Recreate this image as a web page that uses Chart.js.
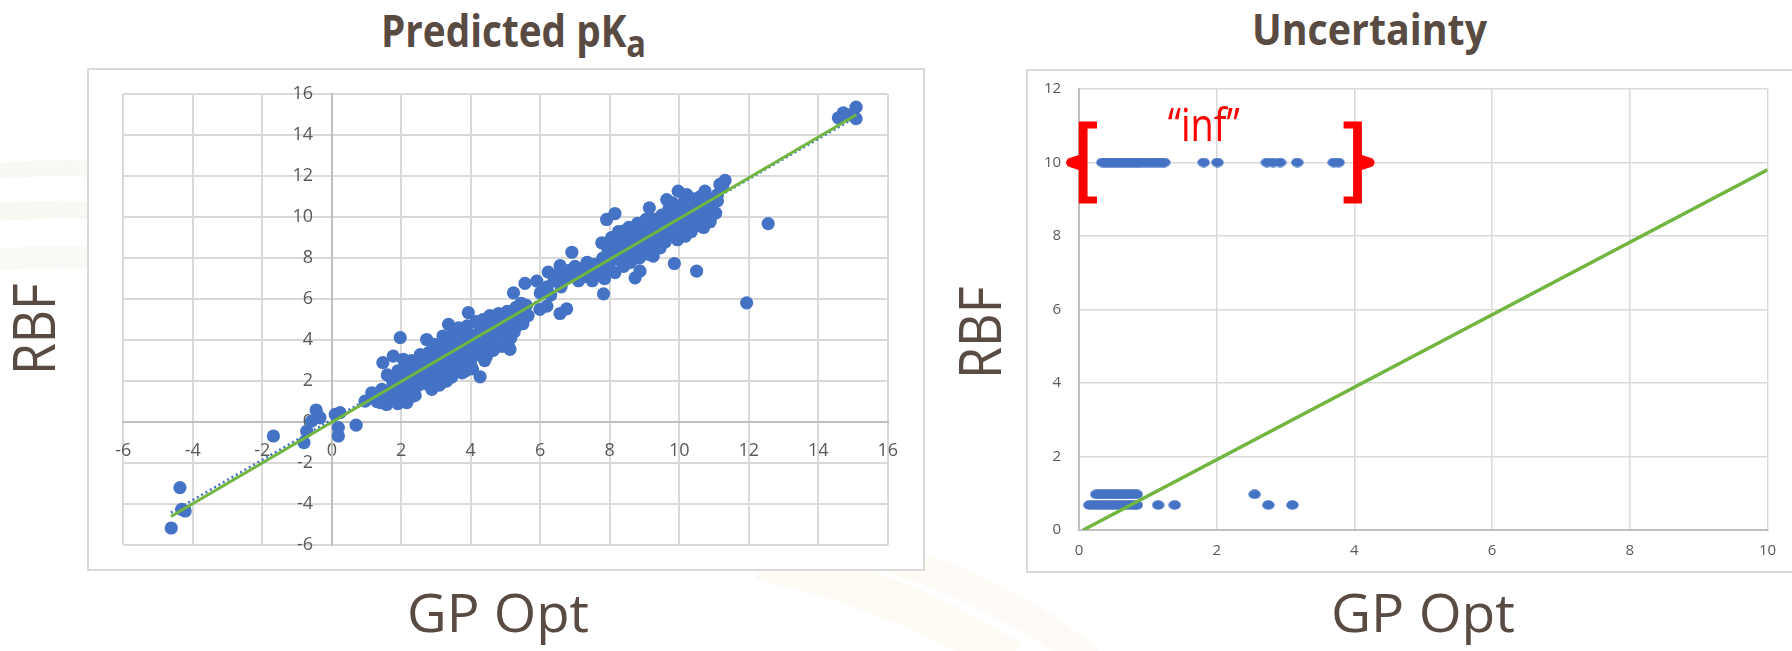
<!DOCTYPE html>
<html><head><meta charset="utf-8">
<script src="https://cdn.jsdelivr.net/npm/chart.js@4.4.1/dist/chart.umd.min.js"></script>
<style>
html,body{margin:0;padding:0;background:#fff;}
body{width:1792px;height:651px;position:relative;overflow:hidden;font-family:'Open Sans',sans-serif;color:#594a42;}
#wm{position:absolute;left:0;top:0;z-index:0;}
.box{position:absolute;border:2px solid #d9d9d9;box-sizing:border-box;background:#fff;z-index:1;}
.cv{position:absolute;z-index:2;}
.t{position:absolute;white-space:nowrap;line-height:1;left:0;top:0;z-index:3;color:#594a42;}
.bl{display:inline-block;width:0;height:0;vertical-align:baseline;}
</style></head>
<body>
<svg id="wm" width="1792" height="651">
  <path d="M -40 175 Q 150 150 330 215" stroke="#f1f6eb" stroke-width="16" fill="none" opacity="0.6"/>
  <path d="M -40 215 Q 150 195 330 250" stroke="#f1f6eb" stroke-width="18" fill="none" opacity="0.6"/>
  <path d="M -40 262 Q 150 245 330 290" stroke="#f3f7ee" stroke-width="22" fill="none" opacity="0.6"/>
  <path d="M 760 560 Q 900 590 1010 660" stroke="#fdf9ef" stroke-width="40" fill="none" opacity="0.7"/>
  <path d="M 840 545 Q 980 575 1090 660" stroke="#fefaf2" stroke-width="30" fill="none" opacity="0.7"/>
</svg>
<div class="box" style="left:87px;top:68px;width:838px;height:503px"></div>
<div class="box" style="left:1026px;top:69px;width:800px;height:504px"></div>
<div class="cv" style="left:88px;top:69px;width:836px;height:502px"><canvas id="c1"></canvas></div>
<div class="cv" style="left:1027px;top:70px;width:765px;height:502px"><canvas id="c2"></canvas></div>

<div class="t" id="t1" style="font-weight:700;font-size:44px">Predicted pK<span style="font-size:37px;position:relative;top:10px">a</span><span class="bl"></span></div>
<div class="t" id="t2" style="font-weight:700;font-size:43px">Uncertainty<span class="bl"></span></div>
<div class="t" id="g1" style="font-size:53px">GP Opt<span class="bl"></span></div>
<div class="t" id="g2" style="font-size:53px">GP Opt<span class="bl"></span></div>
<div class="t" id="r1" style="font-size:58px">RBF<span class="bl"></span></div>
<div class="t" id="r2" style="font-size:58px">RBF<span class="bl"></span></div>

<script>
// ---------- DATA ----------
const pkaTicks = [-6, -4, -2, 0, 2, 4, 6, 8, 10, 12, 14, 16];
const uncXTicks = [0, 2, 4, 6, 8, 10];
const uncYTicks = [0, 2, 4, 6, 8, 10, 12];

// Predicted pKa: [GP Opt, RBF]
const pkaNegative = [[-4.62,-5.17],[-4.37,-3.2],[-4.22,-4.34],[-4.32,-4.26],[-1.68,-0.68],[-0.8,-1.0],[-0.72,-0.44],
  [-0.45,0.59],[-0.34,0.21],[-0.58,0.05],[-0.4,0.3],[0.19,-0.27],[0.19,-0.68],[0.1,0.38],[0.24,0.46],[0.7,-0.15]];
const pkaLow = [[0.96,1.02],[1.15,1.43],[1.3,1.0],[1.44,1.6],[1.58,0.86],[1.47,2.9],[1.5,1.3],[1.6,2.3],[1.65,1.0],
  [1.7,1.6],[1.77,3.22],[1.8,1.9],[1.85,1.1],[1.9,2.5],[1.95,1.4],[1.97,4.12],[2.0,2.0],[2.05,1.2],[2.06,3.06],
  [2.1,2.7],[2.16,0.95],[2.2,1.7],[2.25,2.3],[2.3,3.0],[2.3,1.25],[2.35,1.5],[2.4,2.1],[2.45,2.7],[2.5,1.8],
  [2.55,3.3],[2.5,2.4],[1.2,1.2],[1.4,0.95],[1.75,2.0],[1.9,0.9],[2.1,1.9],[2.2,2.5],[2.4,1.3],[2.45,3.0]];
const pkaMid = [[2.6,2.4],[2.65,1.9],[2.7,3.0],[2.73,4.03],[2.75,2.2],[2.8,3.4],[2.85,2.6],[2.88,1.6],[2.9,2.9],
  [2.95,3.8],[3.0,2.1],[3.0,3.2],[3.05,2.5],[3.1,3.6],[3.1,1.8],[3.15,2.9],[3.2,4.2],[3.2,2.3],[3.25,3.3],
  [3.3,2.0],[3.3,3.7],[3.36,4.77],[3.35,3.9],[3.4,2.7],[3.45,3.4],[3.5,4.4],[3.5,2.4],[3.55,3.0],[3.6,3.7],
  [3.6,4.1],[3.65,4.6],[3.7,2.8],[3.75,3.3],[3.8,4.0],[3.85,2.5],[3.85,3.6],[3.9,4.7],[3.93,5.34],[3.95,3.5],
  [3.95,4.3],[4.0,3.0],[4.0,4.2],[4.05,2.6],[4.1,3.8],[4.15,4.9],[4.2,3.3],[4.25,4.4],[4.27,2.21],[4.3,3.6],
  [4.35,5.0],[4.4,4.1],[4.45,3.2],[4.5,4.7],[4.5,3.8],[4.55,5.2],[4.6,4.3],[4.65,3.5],[4.7,4.9],[4.75,4.0],
  [4.8,5.3],[4.85,4.5],[4.9,3.7],[4.95,5.0],[5.0,4.3],[5.05,5.4],[5.08,3.71],[5.13,3.55],[5.1,4.8],[5.2,5.2],
  [5.23,6.31],[5.25,4.4],[5.3,5.6],[5.32,4.68],[5.4,5.1],[5.45,5.8],[5.5,5.3],[5.56,6.77],[5.6,5.7],
  [2.7,2.6],[2.8,1.8],[2.95,2.3],[3.05,3.0],[3.2,2.7],[3.35,3.1],[3.45,2.2],[3.55,3.6],[3.7,4.2],[3.75,2.4],
  [3.9,3.1],[4.05,3.4],[4.15,4.1],[4.3,4.6],[4.4,3.0],[4.6,3.9],[4.7,4.5],[4.85,4.0],[5.0,4.9],[5.15,4.1],
  [5.35,5.0],[5.5,4.8],[5.65,5.2]];
const pkaUpper = [[5.9,6.88],[5.99,5.5],[6.0,6.3],[6.19,5.66],[6.2,6.6],[6.23,7.32],[6.4,6.9],[6.5,7.2],[6.57,7.64],
  [6.57,5.3],[6.76,5.53],[6.7,7.0],[6.8,7.4],[6.91,8.29],[6.95,7.1],[7.0,7.6],[7.1,6.9],[7.2,7.5],[7.3,7.1],
  [7.35,7.8],[7.4,7.3],[7.5,6.9],[7.55,7.7],[7.6,7.2],[7.7,7.6],[7.82,6.26],[7.77,8.75],[7.8,8.0],[7.85,7.0],
  [7.91,9.89],[8.15,10.18],[7.9,7.5],[7.95,8.4],[8.0,7.8],[8.05,9.0],[8.1,8.2],[8.15,7.3],[8.2,8.7],[8.25,9.3],
  [8.3,7.9],[8.35,8.5],[8.39,9.32],[8.4,7.6],[8.45,8.9],[8.5,8.2],[8.55,9.5],[8.6,7.8],[8.65,8.6],[8.73,7.04],
  [8.87,7.37],[8.7,9.1],[8.75,8.3],[8.8,9.7],[8.85,8.0],[8.9,8.8],[8.95,9.3],[9.0,8.5],[9.05,9.9],[9.1,8.2],
  [9.14,10.46],[9.15,9.0],[9.2,9.5],[9.25,8.1],[9.3,8.7],[9.35,9.8],[9.4,9.2],[9.45,8.5],[9.5,10.1],[9.54,8.91],
  [9.55,9.4],[9.6,8.8],[9.64,10.86],[9.65,9.9],[9.7,10.4],[9.75,9.2],[9.8,10.7],[9.86,7.74],[9.85,9.6],[9.9,10.2],
  [9.95,8.9],[9.97,11.27],[10.0,10.5],[10.05,9.4],[10.1,10.0],[10.15,10.8],[10.17,9.07],[10.2,9.7],[10.22,11.1],
  [10.3,10.3],[10.35,9.3],[10.4,10.9],[10.45,9.9],[10.5,10.5],[10.5,7.37],[10.55,9.6],[10.6,11.0],[10.65,10.2],
  [10.7,9.5],[10.74,11.27],[10.75,10.6],[10.8,9.9],[10.89,9.78],[10.9,10.4],[11.0,10.9],[11.05,10.2],[11.17,11.6],
  [11.32,11.8],[11.1,10.8],
  [8.0,8.6],[8.25,8.0],[8.5,9.2],[8.7,8.0],[8.9,9.4],[9.1,8.9],[9.3,9.9],[9.5,9.0],[9.7,9.7],[9.9,9.3],
  [10.1,10.4],[10.3,9.6],[10.5,10.2],[10.7,10.9],[10.9,10.0],[11.1,11.1],[11.25,11.5],[6.3,6.2],[6.6,6.6],[7.25,7.2]];
const pkaOutliers = [[11.94,5.82],[12.56,9.69],[14.58,14.85],[14.72,15.09],[14.9,15.0],[15.09,15.37],[15.09,14.81]];

// reference lines: [GP Opt, RBF] end points
const pkaIdeal = [[-4.63,-4.61],[15.1,15.0]];
const pkaTrend = [[-4.63,-4.42],[15.1,14.9]];

// Uncertainty: [GP Opt, RBF]  (RBF = 10 marks "inf")
const uncInf = [[0.34,10],[0.38,10],[0.42,10],[0.46,10],[0.5,10],[0.54,10],[0.58,10],[0.62,10],[0.66,10],[0.7,10],
  [0.74,10],[0.78,10],[0.82,10],[0.86,10],[0.9,10],[0.95,10],[1.0,10],[1.05,10],[1.1,10],[1.15,10],[1.2,10],[1.24,10],
  [1.81,10],[2.01,10],[2.73,10],[2.82,10],[2.92,10],[3.17,10],[3.70,10],[3.77,10]];
const uncFinite = [[0.25,0.97],[0.3,0.97],[0.35,0.97],[0.4,0.97],[0.45,0.97],[0.5,0.97],[0.55,0.97],[0.6,0.97],
  [0.65,0.97],[0.7,0.97],[0.75,0.97],[0.8,0.97],[0.84,0.97],[2.55,0.97],
  [0.15,0.68],[0.2,0.68],[0.25,0.68],[0.3,0.68],[0.35,0.68],[0.4,0.68],[0.45,0.68],[0.5,0.68],[0.55,0.68],[0.6,0.68],
  [0.65,0.68],[0.7,0.68],[0.75,0.68],[0.8,0.68],[0.84,0.68],[1.15,0.68],[1.39,0.68],[2.75,0.68],[3.10,0.68]];
const uncIdeal = [[0.06,0],[10,9.8]];

// ---------- STYLE ----------
const BLUE = '#4472c4', GREEN = '#70b63f', GRID = '#d9d9d9', AXIS = '#bfbfbf', TICK = '#595959';
const FONT = "'Open Sans', sans-serif";
const toXY = arr => arr.map(p => ({x: p[0], y: p[1]}));
const fixedTicks = arr => scale => { scale.ticks = arr.map(v => ({value: v})); };

// ---------- CHART 1 ----------
new Chart(document.getElementById('c1'), {
  type: 'scatter',
  data: {datasets: [
    {label: 'ideal', data: toXY(pkaIdeal), showLine: true, borderColor: GREEN, borderWidth: 3, pointRadius: 0, order: 0, yAxisID: 'y'},
    {label: 'pKa', data: toXY([].concat(pkaNegative, pkaLow, pkaMid, pkaUpper, pkaOutliers)), backgroundColor: BLUE,
      borderWidth: 0, pointRadius: 6.6, order: 1, yAxisID: 'y'},
    {label: 'trend', data: toXY(pkaTrend), showLine: true, borderColor: BLUE, borderWidth: 2.5, borderDash: [2, 3],
      pointRadius: 0, order: 2, yAxisID: 'y'}
  ]},
  options: {
    animation: false, responsive: true, maintainAspectRatio: false, events: [],
    layout: {padding: {left: 35.3, top: 25.3, right: 36.3, bottom: 26}},
    plugins: {legend: {display: false}, tooltip: {enabled: false}},
    scales: {
      x: {type: 'linear', min: -6, max: 16, position: {y: 0}, afterBuildTicks: fixedTicks(pkaTicks),
        grid: {color: GRID, lineWidth: 2, drawTicks: false},
        border: {display: true, color: AXIS, width: 2},
        ticks: {padding: 18, color: TICK, font: {family: FONT, size: 18}}},
      y: {type: 'linear', min: -6, max: 16, position: {x: 0}, afterBuildTicks: fixedTicks(pkaTicks),
        grid: {color: GRID, lineWidth: 2, drawTicks: false},
        border: {display: true, color: AXIS, width: 2},
        ticks: {display: false}},
      yl: {axis: 'y', type: 'linear', min: -6, max: 16, position: {x: -0.54}, afterBuildTicks: fixedTicks(pkaTicks),
        grid: {display: false, drawTicks: false}, border: {display: false},
        ticks: {padding: 0, color: TICK, font: {family: FONT, size: 18}}}
    }
  }
});

// ---------- CHART 2 ----------
const dot = document.createElement('canvas');
dot.width = 13; dot.height = 10;
(() => { const c = dot.getContext('2d'); c.fillStyle = BLUE; c.beginPath(); c.ellipse(6.5, 5, 6.2, 4.7, 0, 0, Math.PI * 2); c.fill(); })();

function drawBrace(ctx, bx, cy, dir) {
  const hw = 4.4, half = 41, serifT = 7, serifExt = 9.5, tip = 17;
  ctx.beginPath();
  ctx.rect(bx - hw, cy - half, 2 * hw, 2 * half);
  const s0 = dir < 0 ? bx - hw : bx - hw - serifExt;
  const sw = 2 * hw + serifExt;
  ctx.rect(s0, cy - half, sw, serifT);
  ctx.rect(s0, cy + half - serifT, sw, serifT);
  ctx.fill();
  ctx.beginPath();
  ctx.moveTo(bx, cy - 9);
  ctx.lineTo(bx + dir * (tip - 2), cy - 4);
  ctx.quadraticCurveTo(bx + dir * (tip + 2), cy, bx + dir * (tip - 2), cy + 4);
  ctx.lineTo(bx, cy + 9);
  ctx.closePath();
  ctx.fill();
}

const infNote = {
  id: 'infNote',
  afterDatasetsDraw(chart) {
    const {ctx, scales: {x, y}} = chart;
    ctx.save();
    ctx.fillStyle = '#ff0000';
    const cy = y.getPixelForValue(10);
    drawBrace(ctx, x.getPixelForValue(0.06), cy, -1);
    drawBrace(ctx, x.getPixelForValue(4.045), cy, 1);
    ctx.font = "45px " + FONT;
    ctx.textBaseline = 'alphabetic';
    const s = '\u201Cinf\u201D';
    const w = ctx.measureText(s).width;
    ctx.translate(x.getPixelForValue(1.29), y.getPixelForValue(10.59));
    ctx.scale(72 / w, 1);
    ctx.fillText(s, 0, 0);
    ctx.restore();
  }
};

new Chart(document.getElementById('c2'), {
  type: 'scatter',
  data: {datasets: [
    {label: 'ideal', data: toXY(uncIdeal), showLine: true, borderColor: GREEN, borderWidth: 3.5, pointRadius: 0, order: 0, yAxisID: 'y'},
    {label: 'uncertainty', data: toXY([].concat(uncInf, uncFinite)), pointStyle: dot, pointRadius: 6,
      order: 1, yAxisID: 'y'}
  ]},
  options: {
    animation: false, responsive: true, maintainAspectRatio: false, events: [],
    layout: {padding: {left: 52, top: 19, right: 24.5, bottom: 42}},
    plugins: {legend: {display: false}, tooltip: {enabled: false}},
    scales: {
      x: {type: 'linear', min: 0, max: 10, position: {y: 0}, afterBuildTicks: fixedTicks(uncXTicks),
        grid: {color: GRID, lineWidth: 1.5, drawTicks: false},
        border: {display: true, color: AXIS, width: 2},
        ticks: {padding: 12, color: TICK, font: {family: FONT, size: 15}}},
      y: {type: 'linear', min: 0, max: 12, position: {x: 0}, afterBuildTicks: fixedTicks(uncYTicks),
        grid: {color: GRID, lineWidth: 1.5, drawTicks: false},
        border: {display: true, color: AXIS, width: 2},
        ticks: {display: false}},
      yl: {axis: 'y', type: 'linear', min: 0, max: 12, position: {x: -0.26}, afterBuildTicks: fixedTicks(uncYTicks),
        grid: {display: false, drawTicks: false}, border: {display: false},
        ticks: {padding: 0, color: TICK, font: {family: FONT, size: 15}}}
    }
  },
  plugins: [infNote]
});

// ---------- TEXT PLACEMENT ----------
function base(el) {
  el.style.transform = 'none'; el.style.left = '0px'; el.style.top = '0px';
  const r = el.getBoundingClientRect();
  const b = el.querySelector('.bl').getBoundingClientRect().top - r.top;
  return {w: r.width, b};
}
function place(id, x0, x1, baseline) {
  const el = document.getElementById(id);
  const {w, b} = base(el);
  el.style.transformOrigin = '0px ' + b + 'px';
  el.style.left = x0 + 'px';
  el.style.top = (baseline - b) + 'px';
  el.style.transform = 'scaleX(' + ((x1 - x0) / w) + ')';
}
function placeRot(id, baseX, y0, y1) {
  const el = document.getElementById(id);
  const {w, b} = base(el);
  el.style.transformOrigin = '0px ' + b + 'px';
  el.style.left = baseX + 'px';
  el.style.top = (y0 - b) + 'px';
  el.style.transform = 'rotate(-90deg) scaleX(' + ((y0 - y1) / w) + ')';
}
function layoutText() {
  place('t1', 381, 646, 46.7);
  place('t2', 1252, 1487, 45);
  place('g1', 407, 589, 632);
  place('g2', 1331, 1515, 632);
  placeRot('r1', 55, 375, 283.3);
  placeRot('r2', 1001, 379, 286.5);
}
layoutText();
if (document.fonts && document.fonts.ready) document.fonts.ready.then(layoutText);
</script>
</body></html>
